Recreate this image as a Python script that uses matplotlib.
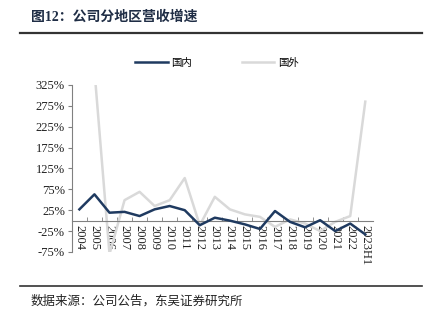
import numpy as np
import matplotlib
matplotlib.use('Agg')
import matplotlib.pyplot as plt
from matplotlib.lines import Line2D

# data (growth, %)
years = ['2004', '2005', '2006', '2007', '2008', '2009', '2010', '2011', '2012', '2013',
         '2014', '2015', '2016', '2017', '2018', '2019', '2020', '2021', '2022', '2023H1']
domestic = [27, 63, 19, 21, 11, 27, 35, 25, -11, 7, 0, -9, -20, 23, -3, -16, 1, -25, -7, -33]
overseas = [np.nan, 360, -80, 49, 69, 35, 49, 102, -11, 57, 27, 15, 9, -15, 3, -7, -25, -3, 11, 285]
yticks = [-75, -25, 25, 75, 125, 175, 225, 275, 325]

navy = '#1f3a60'
grey = '#d9d9d9'
serif = ['Liberation Serif', 'Noto Sans CJK SC']
cjk = ['Noto Sans CJK SC', 'DejaVu Sans']

fig = plt.figure(figsize=(4.33, 3.23), dpi=100)
ax = fig.add_axes([0.166, 0.220, 0.695, 0.517])

x = np.arange(len(years))
ax.plot(x, overseas, color=grey, lw=1.8, label='国外', zorder=2)
ax.plot(x, domestic, color=navy, lw=1.8, label='国内', zorder=3)

ax.set_xlim(-0.5, len(years) - 0.5)
ax.set_ylim(-75, 325)
ax.set_yticks(yticks)
ax.set_yticklabels([f'{v}%' for v in yticks], fontsize=9, family=serif, color='#222222')
ax.tick_params(axis='y', direction='out', length=3, color='#808080', pad=2)

ax.spines['top'].set_visible(False)
ax.spines['right'].set_visible(False)
ax.spines['left'].set_color('#808080')
ax.spines['bottom'].set_color('#808080')
ax.spines['bottom'].set_position(('data', 0))

ax.set_xticks(x)
ax.set_xticklabels(years, rotation=270, fontsize=9, family=serif, color='#222222')
ax.set_xticks(x[:-1] + 0.5, minor=True)
ax.tick_params(axis='x', which='major', length=0, pad=3)
ax.tick_params(axis='x', which='minor', direction='in', length=3, color='#808080')

# legend
handles = [Line2D([], [], color=navy, lw=1.8), Line2D([], [], color=grey, lw=1.8)]
fig.legend(handles, ['国内', '国外'], loc='center', bbox_to_anchor=(0.501, 0.805), ncol=2,
           frameon=False, prop={'family': cjk, 'size': 7.5}, handlelength=3.1,
           columnspacing=4.8, handletextpad=0.35)

# title, rules and source
fig.text(31 / 433, 1 - 17 / 323, '图12：公司分地区营收增速', fontsize=10, fontweight='bold',
         family=serif, color='#1f2d45', va='center', ha='left')
fig.add_artist(Line2D([20 / 433, 422 / 433], [1 - 33 / 323, 1 - 33 / 323],
                      color='#333333', lw=1.6))
fig.add_artist(Line2D([20 / 433, 422 / 433], [1 - 286 / 323, 1 - 286 / 323],
                      color='#333333', lw=1.2))
fig.text(31 / 433, 1 - 301 / 323, '数据来源：公司公告，东吴证券研究所', fontsize=9,
         family=cjk, color='#222222', va='center', ha='left')

fig.savefig('out.png', dpi=100)
